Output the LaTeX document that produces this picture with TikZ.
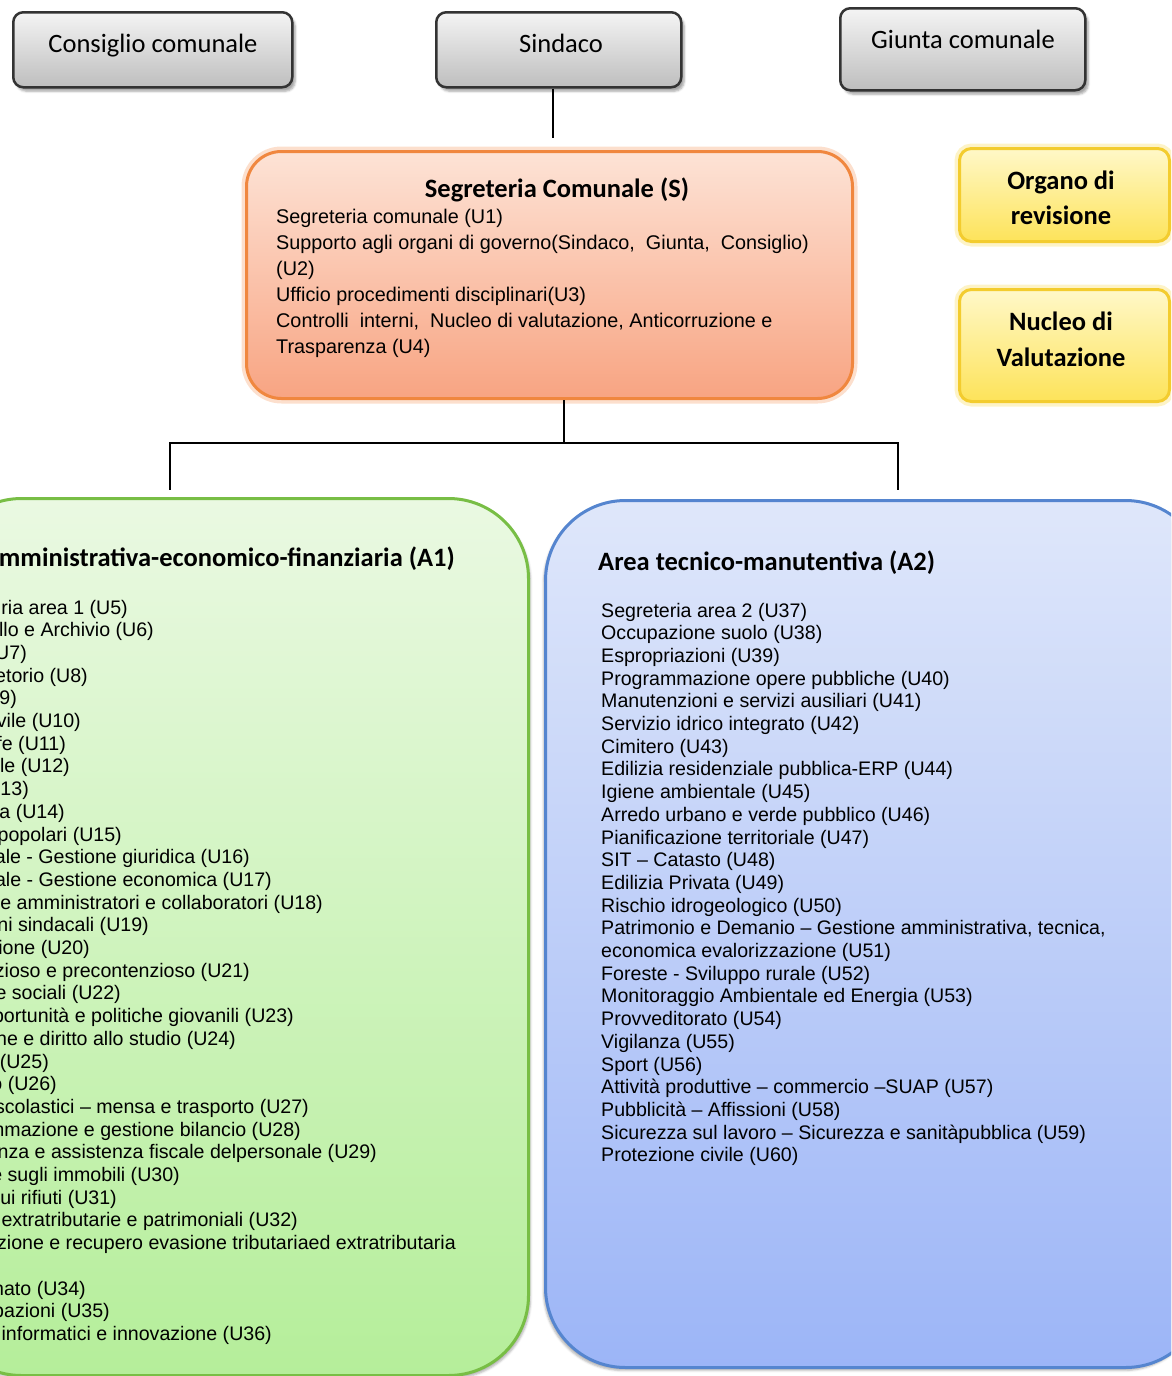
\documentclass[tikz,border=0pt]{standalone}
\usepackage{fontspec}
\setmainfont{Liberation Sans}
\newfontfamily\calfont{Carlito}
\usetikzlibrary{shadows.blur}
\definecolor{gtop}{HTML}{F4F4F4}
\definecolor{gbot}{HTML}{BEBEBE}
\definecolor{gdraw}{HTML}{333333}
\definecolor{otop}{HTML}{FDE3D6}
\definecolor{obot}{HTML}{F8A482}
\definecolor{odraw}{HTML}{F0873F}
\definecolor{oglow}{HTML}{F8B890}
\definecolor{ytop}{HTML}{FFF8C8}
\definecolor{ybot}{HTML}{FDE35A}
\definecolor{ydraw}{HTML}{F3CC2E}
\definecolor{yglow}{HTML}{FBE890}
\definecolor{gntop}{HTML}{EAF9E2}
\definecolor{gnbot}{HTML}{B5EE9A}
\definecolor{gndraw}{HTML}{78BE45}
\definecolor{btop}{HTML}{DFE7FA}
\definecolor{bbot}{HTML}{9CB5F7}
\definecolor{bdraw}{HTML}{5585CF}
\begin{document}
\begin{tikzpicture}[x=1pt,y=-1pt,
  graybox/.style={draw=gdraw, line width=2.5pt, rounded corners=10pt, top color=gtop, bottom color=gbot,
    blur shadow={shadow xshift=3pt, shadow yshift=-4pt, shadow opacity=35}, anchor=north west, inner sep=0},
  orbox/.style={draw=odraw, line width=3pt, rounded corners=35pt, top color=otop, bottom color=obot,
    preaction={draw=oglow, line width=10pt, opacity=0.45}, anchor=north west, inner sep=0},
  yelbox/.style={draw=ydraw, line width=3pt, rounded corners=12pt, top color=ytop, bottom color=ybot,
    preaction={draw=yglow, line width=10pt, opacity=0.5}, anchor=north west, inner sep=0},
  greenarea/.style={draw=gndraw, line width=3pt, rounded corners=80pt, top color=gntop, bottom color=gnbot,
    blur shadow={shadow xshift=2pt, shadow yshift=-3pt, shadow opacity=30}, anchor=north west, inner sep=0},
  bluearea/.style={draw=bdraw, line width=3pt, rounded corners=80pt, top color=btop, bottom color=bbot,
    blur shadow={shadow xshift=-2pt, shadow yshift=-3pt, shadow opacity=30}, anchor=north west, inner sep=0},
  boxtxt/.style={font=\calfont\fontsize{26.5}{30}\selectfont, inner sep=0, anchor=base},
  boldtxt/.style={font=\calfont\bfseries\fontsize{26.5}{30}\selectfont, inner sep=0, anchor=base},
  item/.style={font=\fontsize{19.6}{22.7}\selectfont, inner sep=0},
  oitem/.style={font=\fontsize{19.8}{26}\selectfont, inner sep=0, anchor=base west},
  conn/.style={draw=black, line width=2pt}
]
\useasboundingbox (0,0) rectangle (1171,1376);
\clip (0,0) rectangle (1171,1376);

% top gray boxes
\node[graybox, minimum width=279pt, minimum height=75pt] (cons) at (12,11) {};
\node[graybox, minimum width=245pt, minimum height=75pt] (sind) at (435,11) {};
\node[graybox, minimum width=245pt, minimum height=82pt] (giun) at (839,7) {};
\node[boxtxt] (consT) at (153,52) {Consiglio comunale};
\node[boxtxt] (sindT) at (561,52) {Sindaco};
\node[boxtxt] (giunT) at (963,48.5) {Giunta comunale};

% segreteria
\node[orbox, minimum width=606pt, minimum height=247pt] (seg) at (245,150) {};
\node[boldtxt] (segT) at (557,197) {Segreteria Comunale (S)};
\node[oitem] (s1) at (276,223) {Segreteria comunale (U1)};
\node[oitem] (s2) at (276,249) {Supporto agli organi di governo(Sindaco,~ Giunta,~ Consiglio)};
\node[oitem] (s3) at (276,275) {(U2)};
\node[oitem] (s4) at (276,301) {Ufficio procedimenti disciplinari(U3)};
\node[oitem] (s5) at (276,327) {Controlli~ interni,~ Nucleo di valutazione, Anticorruzione e};
\node[oitem] (s6) at (276,353) {Trasparenza (U4)};

% yellow boxes
\node[yelbox, minimum width=210pt, minimum height=93pt] (org) at (958,147) {};
\node[boldtxt] (orgT1) at (1061,189) {Organo di};
\node[boldtxt] (orgT2) at (1061,224) {revisione};
\node[yelbox, minimum width=210pt, minimum height=112pt] (nuc) at (958,288) {};
\node[boldtxt] (nucT1) at (1061,330) {Nucleo di};
\node[boldtxt] (nucT2) at (1061,366) {Valutazione};

% area boxes
\node[greenarea, minimum width=587pt, minimum height=877pt] (a1) at (-60,497) {};
\node[bluearea, minimum width=660pt, minimum height=867pt] (a2) at (544,499) {};

% connectors
\coordinate (j1) at (553,138);
\draw[conn, shorten >=12pt] (sind.south -| j1) -- (seg.north -| j1);
\coordinate (b0) at (564,443);
\draw[conn] (seg.south -| b0) -- (b0);
\draw[conn, shorten >=7pt] (b0) -| (a1.north -| 170,0);
\draw[conn, shorten >=9pt] (b0) -| (a2.north -| 898,0);

% titles
\node[boldtxt, anchor=base east] (a1T) at (455,566) {mministrativa-economico-finanziaria (A1)};
\node[boldtxt, anchor=base west] (a2T) at (598,570) {Area tecnico-manutentiva (A2)};

% left list (cropped)
\foreach \xe/\k/\t in {
 128/0/{ria area 1 (U5)},
 154/1/{llo e Archivio (U6)},
 27/2/{U7)},
 88/3/{etorio (U8)},
 17/4/{9)},
 81/5/{vile (U10)},
 66/6/{fe (U11)},
 70/7/{le (U12)},
 29/8/{13)},
 65/9/{a (U14)},
 122/10/{popolari (U15)},
 250/11/{ale - Gestione giuridica (U16)},
 272/12/{ale - Gestione economica (U17)},
 323/13/{e amministratori e collaboratori (U18)},
 149/14/{ni sindacali (U19)},
 90/15/{ione (U20)},
 250/16/{zioso e precontenzioso (U21)},
 121/17/{e sociali (U22)},
 294/18/{portunità e politiche giovanili (U23)},
 236/19/{ne e diritto allo studio (U24)},
 49/20/{(U25)},
 57/21/{o (U26)},
 309/22/{scolastici – mensa e trasporto (U27)},
 301/23/{mmazione e gestione bilancio (U28)},
 377/24/{nza e assistenza fiscale delpersonale (U29)},
 180/25/{e sugli immobili (U30)},
 117/26/{ui rifiuti (U31)},
 298/27/{extratributarie e patrimoniali (U32)},
 456/28/{zione e recupero evasione tributariaed extratributaria},
 86/30/{nato (U34)},
 110/31/{pazioni (U35)},
 272/32/{informatici e innovazione (U36)}}
 \node[item, anchor=base east] (l\k) at (\xe, 614+22.7*\k) {\t};

% right list
\foreach \t [count=\i from 0] in {
 {Segreteria area 2 (U37)},
 {Occupazione suolo (U38)},
 {Espropriazioni (U39)},
 {Programmazione opere pubbliche (U40)},
 {Manutenzioni e servizi ausiliari (U41)},
 {Servizio idrico integrato (U42)},
 {Cimitero (U43)},
 {Edilizia residenziale pubblica-ERP (U44)},
 {Igiene ambientale (U45)},
 {Arredo urbano e verde pubblico (U46)},
 {Pianificazione territoriale (U47)},
 {SIT – Catasto (U48)},
 {Edilizia Privata (U49)},
 {Rischio idrogeologico (U50)},
 {Patrimonio e Demanio – Gestione amministrativa, tecnica,},
 {economica evalorizzazione (U51)},
 {Foreste - Sviluppo rurale (U52)},
 {Monitoraggio Ambientale ed Energia (U53)},
 {Provveditorato (U54)},
 {Vigilanza (U55)},
 {Sport (U56)},
 {Attività produttive – commercio –SUAP (U57)},
 {Pubblicità – Affissioni (U58)},
 {Sicurezza sul lavoro – Sicurezza e sanitàpubblica (U59)},
 {Protezione civile (U60)}}
 \node[item, anchor=base west] (r\i) at (601, 617+22.7*\i) {\t};
\end{tikzpicture}
\end{document}
